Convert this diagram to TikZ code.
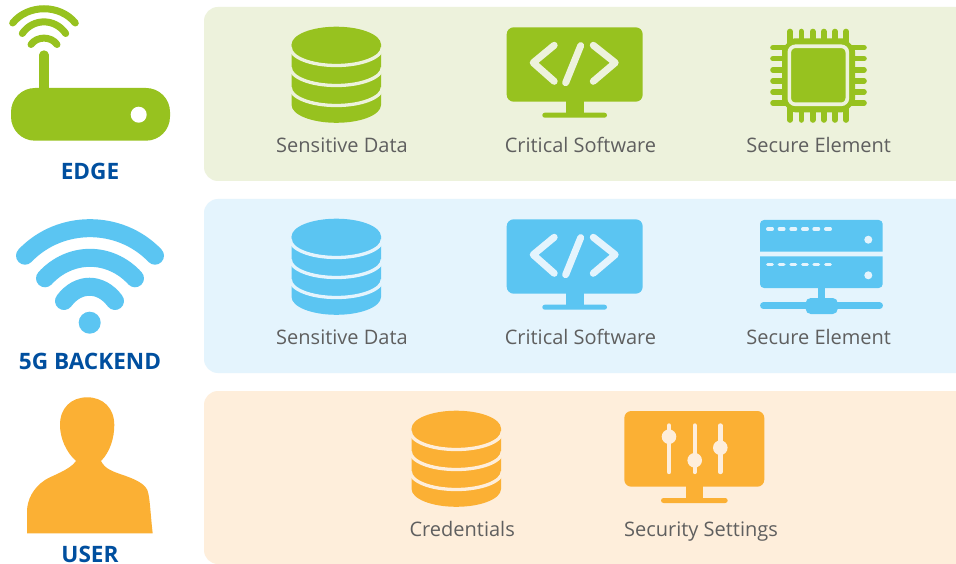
\documentclass[tikz,border=0pt]{standalone}
\usepackage{fontspec}
\setmainfont{Open Sans}
\definecolor{edgegreen}{HTML}{97C21F}
\definecolor{edgebg}{HTML}{EDF2DC}
\definecolor{backblue}{HTML}{5BC5F2}
\definecolor{backbg}{HTML}{E4F4FD}
\definecolor{userorange}{HTML}{FBB034}
\definecolor{userbg}{HTML}{FEEEDB}
\definecolor{labelgray}{HTML}{5F5F5F}
\definecolor{titleblue}{HTML}{004F9F}
\tikzset{
  itemlabel/.style={anchor=base, inner sep=0pt, text=labelgray, font=\fontsize{20}{24}\selectfont},
  rowtitle/.style={anchor=base, inner sep=0pt, text=titleblue, font=\fontsize{22.6}{26}\selectfont\bfseries},
  panel/.style={rounded corners=14pt, draw=none},
  wave/.style={line cap=round, draw=#1}
}
% database, origin = centre of the top disc
\newcommand{\dbicon}[4]{
  \begin{scope}[shift={(#1,#2)}]
    \fill [#3] (-44.7,0) -- (-44.7,60.5) arc[start angle=180, end angle=360, x radius=44.7pt, y radius=17.8pt] -- (44.7,0) -- cycle;
    \fill [#3] (0,0) ellipse [x radius=44.7pt, y radius=17.8pt];
    \draw [#4, line width=3.3pt] (-46,3) arc[start angle=180, end angle=360, x radius=46pt, y radius=18pt];
    \draw [#4, line width=3.3pt] (-46,23) arc[start angle=180, end angle=360, x radius=46pt, y radius=18pt];
    \draw [#4, line width=3.3pt] (-46,43) arc[start angle=180, end angle=360, x radius=46pt, y radius=18pt];
  \end{scope}
}
% monitor, origin = top left corner of the screen
\newcommand{\monitoricon}[3]{
  \begin{scope}[shift={(#1,#2)}]
    \fill [#3, rounded corners=7pt] (0,0) rectangle (136,74.4);
    \fill [#3] (59,74) rectangle (77.3,86);
    \fill [#3, rounded corners=2.5pt] (35.6,85.4) rectangle (100.3,90.4);
  \end{scope}
}
\newcommand{\codeicon}[4]{
  \monitoricon{#1}{#2}{#3}
  \begin{scope}[shift={(#1,#2)}]
    \draw [#4, line width=7pt, line cap=round, line join=round] (47.5,18) -- (26.5,35.4) -- (47.5,54);
    \draw [#4, line width=7pt, line cap=round] (74,18.4) -- (59,55.4);
    \draw [#4, line width=7pt, line cap=round, line join=round] (86.6,18) -- (108.5,35.4) -- (86.6,54);
  \end{scope}
}
\begin{document}
\begin{tikzpicture}[x=1pt, y=-1pt]
  \useasboundingbox [fill=white] (0,0) rectangle (956,564);

  % panels
  \fill [panel, edgebg] (956,7) -- (204,7) -- (204,181) -- (956,181);
  \fill [panel, backbg] (956,199) -- (204,199) -- (204,373) -- (956,373);
  \fill [panel, userbg] (956,391) -- (204,391) -- (204,564) -- (956,564);

  % router
  \fill [edgegreen, rounded corners=24pt] (11,88) rectangle (170,140.7);
  \fill [white] (138.7,114.7) circle [radius=8pt];
  \draw [edgegreen, line width=9.3pt, line cap=round] (44,55) -- (44,90);
  \draw [wave=edgegreen, line width=7pt] (31,44.5) .. controls (37,36) and (51,36) .. (57,44.5);
  \draw [wave=edgegreen, line width=7pt] (22.3,33.5) .. controls (33,18) and (55,18) .. (65.7,33.5);
  \draw [wave=edgegreen, line width=7pt] (12.7,23) .. controls (28,4) and (60,4) .. (75.3,23);
  \node [rowtitle] (edgetitle) at (90,179.3) {EDGE};

  % wifi
  \draw [wave=backblue, line width=18pt] (25,255.7) .. controls (60,219) and (120,219) .. (155,255.7);
  \draw [wave=backblue, line width=18pt] (45,278.3) .. controls (70,251) and (110,251) .. (135,278.3);
  \draw [wave=backblue, line width=18pt] (64,301) .. controls (78,282) and (101,282) .. (115,301);
  \fill [backblue] (89.7,322.7) circle [radius=11pt];
  \node [rowtitle] (backendtitle) at (90,369.5) {5G BACKEND};

  % person
  \fill [userorange] (27,533.3) -- (27,511.7) .. controls (27,500) and (33,488) .. (45,480)
    .. controls (52,475.5) and (70,470) .. (76,461)
    .. controls (66,452) and (60,438) .. (60,425)
    .. controls (60,408) and (71,397.3) .. (87.3,397.3)
    .. controls (103,397.3) and (114.3,408) .. (114.3,425)
    .. controls (114.3,438) and (110,452) .. (101,461)
    .. controls (105,469) and (113,471.5) .. (120,474)
    .. controls (135,479) and (147,484) .. (148.3,493.3)
    .. controls (150,500) and (151,520) .. (152.7,533.3) -- cycle;
  \node [rowtitle] (usertitle) at (90,562.4) {USER};

  % first row
  \dbicon{336.3}{44.5}{edgegreen}{edgebg}
  \codeicon{506.7}{27.3}{edgegreen}{edgebg}
  \foreach \px in {790,801.3,812.7,823.8,834.9,846} {
    \draw [edgegreen, line width=5.6pt, line cap=round] (\px,31.5) -- (\px,45);
    \draw [edgegreen, line width=5.6pt, line cap=round] (\px,105) -- (\px,120);
  }
  \foreach \py in {47.7,58.7,70,81,92,103} {
    \draw [edgegreen, line width=5.6pt, line cap=round] (773,\py) -- (790,\py);
    \draw [edgegreen, line width=5.6pt, line cap=round] (846,\py) -- (864,\py);
  }
  \fill [edgegreen, rounded corners=3pt] (792,38.3) -- (845,38.3) -- (855,48.3) -- (855,102.3) -- (845,112.3) -- (792,112.3) -- (782,102.3) -- (782,48.3) -- cycle;
  \draw [edgebg, line width=3.6pt, rounded corners=6pt] (789.3,46.3) rectangle (847.3,104.3);
  \node [itemlabel] (edgedata) at (342,152.5) {Sensitive Data};
  \node [itemlabel] (edgesoft) at (580.5,152.5) {Critical Software};
  \node [itemlabel] (edgechip) at (818.7,152.5) {Secure Element};

  % second row
  \dbicon{336.3}{236.5}{backblue}{backbg}
  \codeicon{506.7}{219.3}{backblue}{backbg}
  \fill [backblue] (760,251.7) -- (760,224) arc[start angle=180, end angle=90, radius=4pt] -- (878.7,220) arc[start angle=90, end angle=0, radius=4pt] -- (882.7,251.7) -- cycle;
  \fill [backblue] (760,256.3) -- (882.7,256.3) -- (882.7,284) arc[start angle=0, end angle=-90, radius=4pt] -- (764,288) arc[start angle=270, end angle=180, radius=4pt] -- cycle;
  \foreach \py in {229,264.7}
    \foreach \px in {767.7,779.3,791,802.7,814,825.7}
      \draw [backbg, line width=3.3pt, line cap=round] (\px,\py) -- (\px+4.6,\py);
  \fill [backbg] (868.3,239.7) circle [radius=4pt];
  \fill [backbg] (868.3,275.3) circle [radius=4pt];
  \fill [backblue] (818.3,288) rectangle (825,300);
  \draw [backblue, line width=6.7pt, line cap=round] (763.4,305.7) -- (879.6,305.7);
  \fill [backblue, rounded corners=5pt] (805.7,298) rectangle (837.7,314);
  \node [itemlabel] (backdata) at (342,344.5) {Sensitive Data};
  \node [itemlabel] (backsoft) at (580.5,344.5) {Critical Software};
  \node [itemlabel] (backserver) at (818.7,344.5) {Secure Element};

  % third row
  \dbicon{456.3}{428.5}{userorange}{userbg}
  \fill [userorange, rounded corners=7pt] (624.3,411) rectangle (764.3,486.7);
  \fill [userorange] (685.7,486) rectangle (703,498.5);
  \fill [userorange, rounded corners=2.5pt] (661,498) rectangle (727.7,503);
  \draw [userbg, line width=4.4pt, line cap=round] (669,425.5) -- (669,472);
  \draw [userbg, line width=4.4pt, line cap=round] (694.7,425.5) -- (694.7,472);
  \draw [userbg, line width=4.4pt, line cap=round] (720.3,425.5) -- (720.3,472);
  \fill [userbg] (669,436.7) circle [radius=7.3pt];
  \fill [userbg] (694.7,460.3) circle [radius=7.3pt];
  \fill [userbg] (720.3,447.7) circle [radius=7.3pt];
  \node [itemlabel] (usercred) at (462.2,536.5) {Credentials};
  \node [itemlabel] (usersettings) at (701,536.5) {Security Settings};
\end{tikzpicture}
\end{document}
